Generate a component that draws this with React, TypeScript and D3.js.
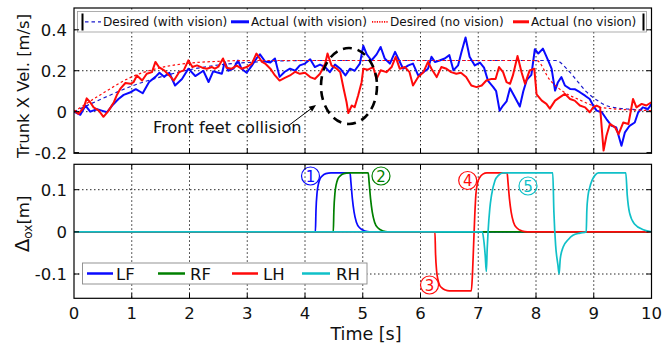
import React from "react";
import * as d3 from "d3";

type Pt = [number, number];

// axis ticks
const timeTicks = [0, 1, 2, 3, 4, 5, 6, 7, 8, 9, 10];
const velTicks = [-0.2, 0, 0.2, 0.4];
const velTickLabels = ["-0.2", "0", "0.2", "0.4"];
const offTicks = [-0.1, 0, 0.1];
const offTickLabels = ["-0.1", "0", "0.1"];

// top panel: trunk x velocity [m/s] over time [s]
const desiredWithVision: Pt[] = [
  [0, 0], [0.5, 0.065], [1, 0.125], [1.5, 0.17], [2, 0.205], [2.5, 0.228], [3, 0.24],
  [3.5, 0.247], [4, 0.25], [8.35, 0.25], [8.53, 0.21], [8.7, 0.155], [8.87, 0.098],
  [9.05, 0.057], [9.28, 0.024], [9.63, 0.012], [10, 0.008],
];
const desiredNoVision: Pt[] = [
  [0, 0], [0.5, 0.09], [1, 0.17], [1.5, 0.215], [2, 0.237], [2.5, 0.246], [3, 0.25],
  [8.01, 0.25], [8.24, 0.155], [8.47, 0.098], [8.76, 0.057], [9.05, 0.024],
  [9.34, 0.014], [9.7, 0.008], [10, 0.005],
];
const actualWithVision: Pt[] = [
  [0, 0], [0.11, -0.015], [0.2, 0.03], [0.28, 0], [0.4, 0.012], [0.48, 0.005], [0.57, -0.003],
  [0.66, 0.03], [0.77, 0.062], [0.86, 0.082], [0.98, 0.095], [1.07, 0.11], [1.19, 0.09],
  [1.3, 0.145], [1.41, 0.17], [1.48, 0.19], [1.56, 0.17], [1.65, 0.19], [1.75, 0.128],
  [1.87, 0.16], [1.98, 0.21], [2.1, 0.174], [2.24, 0.2], [2.33, 0.145], [2.41, 0.197],
  [2.5, 0.19], [2.56, 0.185], [2.61, 0.243], [2.67, 0.2], [2.76, 0.21], [2.84, 0.25],
  [2.9, 0.21], [2.99, 0.19], [3.08, 0.225], [3.16, 0.26], [3.22, 0.28], [3.31, 0.245],
  [3.4, 0.24], [3.48, 0.26], [3.56, 0.17], [3.65, 0.195], [3.74, 0.21], [3.83, 0.2],
  [3.91, 0.226], [4.0, 0.235], [4.09, 0.256], [4.17, 0.218], [4.26, 0.23], [4.35, 0.218],
  [4.43, 0.193], [4.52, 0.23], [4.61, 0.21], [4.7, 0.177], [4.78, 0.21], [4.86, 0.2],
  [4.95, 0.235], [5.01, 0.322], [5.07, 0.28], [5.15, 0.25], [5.24, 0.28], [5.31, 0.316],
  [5.38, 0.26], [5.47, 0.235], [5.56, 0.292], [5.63, 0.25], [5.7, 0.21], [5.79, 0.226],
  [5.87, 0.235], [5.96, 0.177], [6.05, 0.193], [6.13, 0.21], [6.19, 0.268], [6.25, 0.243],
  [6.33, 0.25], [6.42, 0.26], [6.5, 0.276], [6.57, 0.202], [6.65, 0.226], [6.71, 0.292],
  [6.78, 0.362], [6.85, 0.268], [6.94, 0.226], [7.03, 0.24], [7.1, 0.215], [7.17, 0.15],
  [7.26, 0.12], [7.31, 0.1], [7.37, 0.005], [7.43, 0.03], [7.49, 0.05], [7.55, 0.114],
  [7.63, 0.073], [7.72, 0.025], [7.78, 0.1], [7.84, 0.155], [7.92, 0.18], [7.98, 0.305],
  [8.04, 0.284], [8.12, 0.308], [8.21, 0.251], [8.27, 0.21], [8.33, 0.103], [8.38, 0.144],
  [8.44, 0.169], [8.5, 0.128], [8.59, 0.111], [8.67, 0.11], [8.76, 0.095], [8.85, 0.078],
  [8.93, 0.062], [8.99, 0.03], [9.05, 0.005], [9.14, -0.003], [9.22, -0.036], [9.31, -0.069],
  [9.39, -0.077], [9.48, -0.167], [9.54, -0.101], [9.62, -0.069], [9.71, -0.053],
  [9.77, -0.003], [9.85, 0.021], [9.94, 0.013], [10, 0.038],
];
const actualNoVision: Pt[] = [
  [0, 0.005], [0.08, -0.011], [0.17, 0.021], [0.22, 0.065], [0.28, 0.046], [0.34, 0.021],
  [0.43, 0.005], [0.51, -0.025], [0.6, 0.005], [0.69, 0.046], [0.74, 0.08], [0.8, 0.111],
  [0.89, 0.14], [0.98, 0.136], [1.03, 0.144], [1.09, 0.177], [1.18, 0.152], [1.26, 0.185],
  [1.35, 0.193], [1.41, 0.243], [1.47, 0.218], [1.56, 0.202], [1.65, 0.177], [1.73, 0.152],
  [1.82, 0.193], [1.9, 0.202], [1.98, 0.251], [2.05, 0.218], [2.13, 0.226], [2.22, 0.215],
  [2.3, 0.21], [2.39, 0.218], [2.44, 0.21], [2.5, 0.22], [2.58, 0.26], [2.64, 0.215],
  [2.73, 0.21], [2.82, 0.225], [2.9, 0.21], [2.99, 0.218], [3.08, 0.235], [3.16, 0.284],
  [3.25, 0.245], [3.31, 0.235], [3.4, 0.21], [3.48, 0.177], [3.56, 0.152], [3.65, 0.165],
  [3.74, 0.177], [3.83, 0.195], [3.91, 0.185], [4.0, 0.19], [4.09, 0.169], [4.17, 0.16],
  [4.26, 0.185], [4.35, 0.235], [4.39, 0.284], [4.46, 0.225], [4.55, 0.21], [4.61, 0.193],
  [4.67, 0.111], [4.72, 0.046], [4.75, -0.007], [4.81, 0.03], [4.86, 0.022], [4.92, 0.079],
  [4.98, 0.144], [5.01, 0.21], [5.09, 0.205], [5.18, 0.218], [5.24, 0.16], [5.31, 0.202],
  [5.41, 0.193], [5.5, 0.218], [5.57, 0.268], [5.64, 0.21], [5.73, 0.218], [5.81, 0.193],
  [5.87, 0.128], [5.96, 0.169], [6.05, 0.193], [6.13, 0.243], [6.19, 0.21], [6.28, 0.169],
  [6.36, 0.218], [6.45, 0.21], [6.53, 0.193], [6.62, 0.185], [6.7, 0.19], [6.79, 0.169],
  [6.88, 0.128], [6.97, 0.12], [7.06, 0.128], [7.14, 0.152], [7.23, 0.16], [7.3, 0.16],
  [7.36, 0.218], [7.43, 0.193], [7.49, 0.144], [7.55, 0.136], [7.6, 0.177], [7.68, 0.272],
  [7.75, 0.193], [7.81, 0.136], [7.89, 0.202], [7.97, 0.21], [8.01, 0.085], [8.1, 0.054],
  [8.18, 0.038], [8.24, 0.015], [8.33, 0.054], [8.41, 0.07], [8.5, 0.087], [8.59, 0.062],
  [8.67, 0.054], [8.76, 0.03], [8.85, 0.021], [8.93, -0.003], [8.99, 0.021], [9.05, 0.03],
  [9.11, 0.021], [9.17, -0.19], [9.22, -0.118], [9.28, -0.06], [9.37, -0.077], [9.43, -0.11],
  [9.51, -0.053], [9.6, -0.06], [9.68, 0.062], [9.74, 0.021], [9.83, 0.038], [9.91, 0.03],
  [10, 0.046],
];

// bottom panel: foothold offset [m] per leg
const offsetLF: Pt[] = [
  [0, 0], [4.18, 0], [4.19, 0.05], [4.21, 0.094], [4.23, 0.112], [4.26, 0.126], [4.3, 0.133],
  [4.36, 0.138], [4.45, 0.14], [4.78, 0.14], [4.795, 0.118], [4.82, 0.079], [4.85, 0.047],
  [4.89, 0.023], [4.95, 0.009], [5.04, 0.002], [5.12, 0], [10, 0],
];
const offsetRF: Pt[] = [
  [0, 0], [4.49, 0], [4.5, 0.05], [4.52, 0.094], [4.54, 0.112], [4.57, 0.126], [4.61, 0.133],
  [4.67, 0.138], [4.76, 0.14], [5.095, 0.14], [5.11, 0.118], [5.135, 0.079], [5.165, 0.047],
  [5.205, 0.023], [5.265, 0.009], [5.355, 0.002], [5.43, 0], [10, 0],
];
const offsetLH: Pt[] = [
  [0, 0], [6.25, 0], [6.26, -0.05], [6.28, -0.094], [6.3, -0.112], [6.33, -0.126],
  [6.37, -0.133], [6.43, -0.138], [6.5, -0.14], [6.88, -0.14], [6.9, -0.1], [6.92, -0.03],
  [6.94, 0.04], [6.96, 0.09], [6.99, 0.117], [7.03, 0.13], [7.08, 0.137], [7.15, 0.14],
  [7.5, 0.14], [7.515, 0.118], [7.54, 0.079], [7.57, 0.047], [7.61, 0.023], [7.67, 0.009],
  [7.76, 0.002], [7.85, 0], [10, 0],
];
const offsetRH: Pt[] = [
  [0, 0], [7.07, 0], [7.1, -0.025], [7.12, -0.055], [7.14, -0.094], [7.155, -0.04],
  [7.17, 0], [7.2, 0.055], [7.23, 0.087], [7.29, 0.122], [7.35, 0.134], [7.43, 0.14],
  [8.29, 0.14], [8.31, 0.047], [8.34, -0.032], [8.38, -0.079], [8.4, -0.1], [8.42, -0.064],
  [8.47, -0.036], [8.56, -0.018], [8.64, -0.008], [8.76, -0.003], [8.87, 0], [8.88, 0.05],
  [8.9, 0.085], [8.93, 0.105], [8.97, 0.122], [9.02, 0.134], [9.08, 0.14], [9.555, 0.14],
  [9.58, 0.087], [9.62, 0.045], [9.71, 0.018], [9.86, 0.005], [10, 0],
];

const BLUE = "#0a0aff";
const RED = "#ff0a0a";
const GREEN = "#008000";
const CYAN = "#10c0c8";
const FONT = "DejaVu Sans, Verdana, sans-serif";

export default function App() {
  const W = 671;
  const H = 347;
  const left = 74;
  const right = 651.5;
  const top1 = 8;
  const bot1 = 153.3;
  const top2 = 164.3;
  const bot2 = 298.3;

  const x = d3.scaleLinear().domain([0, 10]).range([left, right]);
  const yV = d3.scaleLinear().domain([-0.2, 0.4]).range([152.6, 29.8]);
  const yD = d3.scaleLinear().domain([-0.1, 0.1]).range([274, 189.7]);

  const rawV = d3.line<Pt>().x((d) => x(d[0])).y((d) => yV(d[1]));
  const smoothV = d3.line<Pt>().x((d) => x(d[0])).y((d) => yV(d[1])).curve(d3.curveMonotoneX);
  const smoothD = d3.line<Pt>().x((d) => x(d[0])).y((d) => yD(d[1])).curve(d3.curveMonotoneX);

  const gridX = timeTicks.slice(1, -1);

  // arrow for annotation
  const ax0 = 288, ay0 = 126, ax1 = 316, ay1 = 105;
  const ang = Math.atan2(ay1 - ay0, ax1 - ax0);
  const ah = 7, aw = 3;
  const arrowHead = [
    [ax1, ay1],
    [ax1 - ah * Math.cos(ang) + aw * Math.sin(ang), ay1 - ah * Math.sin(ang) - aw * Math.cos(ang)],
    [ax1 - ah * Math.cos(ang) - aw * Math.sin(ang), ay1 - ah * Math.sin(ang) + aw * Math.cos(ang)],
  ].map((p) => p.join(",")).join(" ");

  const circled = [
    { n: "1", cx: 310.5, cy: 176, c: BLUE },
    { n: "2", cx: 381, cy: 176, c: GREEN },
    { n: "3", cx: 429.5, cy: 285, c: RED },
    { n: "4", cx: 467.7, cy: 180.5, c: RED },
    { n: "5", cx: 528, cy: 186, c: CYAN },
  ];

  const topLegend = [
    { label: "Desired (with vision)", color: "#1a1acc", dash: "3.5,3", w: 1.2, x0: 85, x1: 101, tx: 103 },
    { label: "Actual (with vision)", color: BLUE, dash: "", w: 3, x0: 231, x1: 249, tx: 251 },
    { label: "Desired (no vision)", color: RED, dash: "1.2,1.2", w: 1.8, x0: 372, x1: 388, tx: 390 },
    { label: "Actual (no vision)", color: RED, dash: "", w: 3, x0: 513, x1: 529, tx: 531 },
  ];
  const botLegend = [
    { label: "LF", color: BLUE, x0: 87, x1: 113, tx: 116 },
    { label: "RF", color: GREEN, x0: 158, x1: 185, tx: 190 },
    { label: "LH", color: RED, x0: 232, x1: 258, tx: 263 },
    { label: "RH", color: CYAN, x0: 302, x1: 330, tx: 336 },
  ];

  const tickLen = 5;

  return (
    <svg
      width={W}
      height={H}
      viewBox={`0 0 ${W} ${H}`}
      style={{ position: "absolute", left: 0, top: 0, background: "#fff" }}
      fontFamily={FONT}
    >
      <defs>
        <clipPath id="clipTop">
          <rect x={left} y={top1} width={right - left} height={bot1 - top1} />
        </clipPath>
        <clipPath id="clipBot">
          <rect x={left} y={top2} width={right - left} height={bot2 - top2} />
        </clipPath>
      </defs>

      {/* ---------- top panel ---------- */}
      <g stroke="#111" strokeWidth={0.9} strokeDasharray="1.5,2.5">
        {gridX.map((t) => (
          <line key={"gvx" + t} x1={x(t)} x2={x(t)} y1={top1} y2={bot1} />
        ))}
        {velTicks.slice(1).map((v) => (
          <line key={"gvy" + v} x1={left} x2={right} y1={yV(v)} y2={yV(v)} />
        ))}
      </g>

      <g clipPath="url(#clipTop)" fill="none">
        <path d={smoothV(desiredWithVision) ?? ""} stroke="#1a1acc" strokeWidth={1.2} strokeDasharray="3.5,3" />
        <path d={rawV(actualWithVision) ?? ""} stroke={BLUE} strokeWidth={2} strokeLinejoin="round" />
        <path d={smoothV(desiredNoVision) ?? ""} stroke={RED} strokeWidth={1.2} strokeDasharray="2.5,2.5" />
        <path d={rawV(actualNoVision) ?? ""} stroke={RED} strokeWidth={2} strokeLinejoin="round" />
      </g>

      {/* collision annotation */}
      <ellipse cx={349} cy={86} rx={28} ry={38} fill="none" stroke="#000" strokeWidth={2.6} strokeDasharray="9,6" />
      <line x1={ax0} y1={ay0} x2={ax1 - 3 * Math.cos(ang)} y2={ay1 - 3 * Math.sin(ang)} stroke="#000" strokeWidth={1} />
      <polygon points={arrowHead} fill="#000" />
      <text x={153} y={133} fontSize={16.2} fill="#111">Front feet collision</text>

      {/* top legend */}
      <rect x={77.5} y={11.5} width={569} height={20.5} fill="#fff" stroke="#999" strokeWidth={0.8} />
      <rect x={81.5} y={13.5} width={2} height={17} fill="#000" />
      <rect x={642.5} y={13.5} width={2} height={17} fill="#000" />
      {topLegend.map((d) => (
        <g key={d.label}>
          <line x1={d.x0} x2={d.x1} y1={21.8} y2={21.8} stroke={d.color} strokeWidth={d.w} strokeDasharray={d.dash || undefined} />
          <text x={d.tx} y={26.2} fontSize={12.1} fill="#111">{d.label}</text>
        </g>
      ))}

      {/* top frame + ticks */}
      <g stroke="#000" strokeWidth={1}>
        {gridX.map((t) => (
          <g key={"tt" + t}>
            <line x1={x(t)} x2={x(t)} y1={bot1} y2={bot1 - tickLen} />
          </g>
        ))}
        {velTicks.map((v) => (
          <g key={"tv" + v}>
            <line x1={left} x2={left + tickLen} y1={yV(v)} y2={yV(v)} />
            <line x1={right} x2={right - tickLen} y1={yV(v)} y2={yV(v)} />
          </g>
        ))}
      </g>
      <rect x={left} y={top1} width={right - left} height={bot1 - top1} fill="none" stroke="#000" strokeWidth={1.2} />
      {velTicks.map((v, i) => (
        <text key={"lv" + v} x={67} y={yV(v) + 6} fontSize={16.5} textAnchor="end" fill="#111">
          {velTickLabels[i]}
        </text>
      ))}
      <text transform="translate(29,86) rotate(-90)" textAnchor="middle" fontSize={16.4} fill="#111">
        Trunk X Vel. [m/s]
      </text>

      {/* ---------- bottom panel ---------- */}
      <g stroke="#111" strokeWidth={0.9} strokeDasharray="1.5,2.5">
        {gridX.map((t) => (
          <line key={"gdx" + t} x1={x(t)} x2={x(t)} y1={top2} y2={bot2} />
        ))}
        {offTicks.map((v) => (
          <line key={"gdy" + v} x1={left} x2={right} y1={yD(v)} y2={yD(v)} />
        ))}
      </g>

      <g clipPath="url(#clipBot)" fill="none" strokeWidth={1.7} strokeLinejoin="round">
        <path d={smoothD(offsetLF) ?? ""} stroke={BLUE} />
        <path d={smoothD(offsetRF) ?? ""} stroke={GREEN} />
        <path d={smoothD(offsetLH) ?? ""} stroke={RED} />
        <path d={smoothD(offsetRH) ?? ""} stroke={CYAN} />
      </g>

      {circled.map((c) => (
        <g key={"c" + c.n}>
          <circle cx={c.cx} cy={c.cy} r={9} fill="none" stroke={c.c} strokeWidth={1.2} />
          <text x={c.cx} y={c.cy + 5.5} fontSize={15} textAnchor="middle" fill={c.c}>{c.n}</text>
        </g>
      ))}

      {/* bottom legend */}
      <rect x={82.5} y={263} width={284.5} height={21} fill="#fff" stroke="#888" strokeWidth={0.9} />
      {botLegend.map((d) => (
        <g key={d.label}>
          <line x1={d.x0} x2={d.x1} y1={273.5} y2={273.5} stroke={d.color} strokeWidth={2.5} />
          <text x={d.tx} y={279.8} fontSize={16.5} fill="#111">{d.label}</text>
        </g>
      ))}

      <g stroke="#000" strokeWidth={1}>
        {gridX.map((t) => (
          <g key={"bt" + t}>
            <line x1={x(t)} x2={x(t)} y1={bot2} y2={bot2 - tickLen} />
            <line x1={x(t)} x2={x(t)} y1={top2} y2={top2 + tickLen} />
          </g>
        ))}
        {offTicks.map((v) => (
          <g key={"bv" + v}>
            <line x1={left} x2={left + tickLen} y1={yD(v)} y2={yD(v)} />
            <line x1={right} x2={right - tickLen} y1={yD(v)} y2={yD(v)} />
          </g>
        ))}
      </g>
      <rect x={left} y={top2} width={right - left} height={bot2 - top2} fill="none" stroke="#000" strokeWidth={1.2} />
      {offTicks.map((v, i) => (
        <text key={"lo" + v} x={67} y={yD(v) + 6} fontSize={16.5} textAnchor="end" fill="#111">
          {offTickLabels[i]}
        </text>
      ))}
      <text transform="translate(29,224) rotate(-90)" textAnchor="middle" fill="#111">
        <tspan fontSize={20}>Δ</tspan>
        <tspan fontSize={12} dy={3}>ox</tspan>
        <tspan fontSize={16.5} dy={-3}>[m]</tspan>
      </text>

      {timeTicks.map((t) => (
        <text key={"lt" + t} x={x(t)} y={319} fontSize={16.5} textAnchor="middle" fill="#111">
          {t}
        </text>
      ))}
      <text x={366} y={340} fontSize={17.5} textAnchor="middle" fill="#111">Time [s]</text>
    </svg>
  );
}
